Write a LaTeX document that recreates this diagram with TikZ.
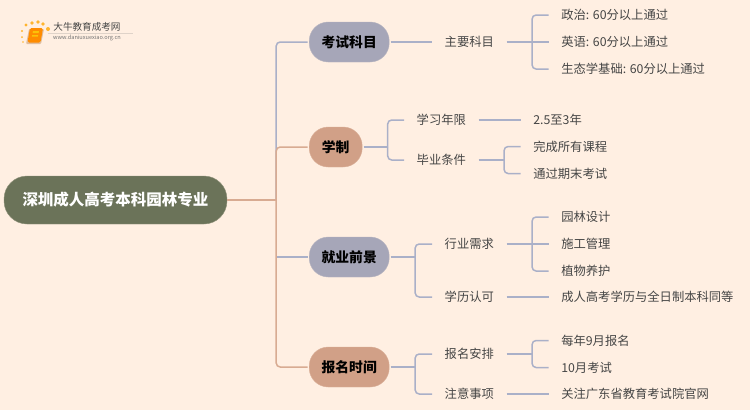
\documentclass[tikz,border=0pt]{standalone}
\usepackage{fontspec}
\setmainfont{Noto Sans CJK SC}
\usetikzlibrary{positioning}
\definecolor{paper}{HTML}{FFEFE2}
\definecolor{bluelink}{HTML}{AAB0C8}
\definecolor{tanlink}{HTML}{D8AB92}
\definecolor{bluecat}{HTML}{A6A6B8}
\definecolor{tancat}{HTML}{D1A087}
\definecolor{rootfill}{HTML}{6B7359}
\definecolor{ink}{HTML}{454545}
\begin{document}
\begin{tikzpicture}[
        x=1pt, y=1pt,
        root/.style={rectangle, draw=rootfill!75!paper, fill=rootfill, rounded corners=23pt, minimum width=223pt, minimum height=48pt, font=\fontsize{15.5}{18}\selectfont\bfseries, text=white},
        bluebox/.style={rectangle, draw=bluecat!80!paper, fill=bluecat, rounded corners=19pt, minimum height=40pt, outer sep=1.5pt, font=\fontsize{13.8}{16}\selectfont\bfseries, text=black},
        tanbox/.style={bluebox, draw=tancat!80!paper, fill=tancat},
        wide/.style={minimum width=80pt},
        narrow/.style={minimum width=53pt},
        topic/.style={inner xsep=12.5pt, inner ysep=0pt, font=\fontsize{12.3}{15}\selectfont, text=ink},
        bluearrow/.style={draw=bluelink, line width=1.5pt, rounded corners=4pt},
        tanarrow/.style={draw=tanlink, line width=1.5pt, rounded corners=4pt}
    ]
        \useasboundingbox[fill=paper] (0,0) rectangle (750,-410);

        % Logo
        \foreach \dotx/\doty/\dotr in {22/-31/1.2, 26/-25/1.6, 32/-23/1.8, 38/-22/1.8, 43/-24/1.8, 48/-29/2, 22/-37/1, 23/-42/.8}
            \fill[orange!70!yellow, opacity=.8] (\dotx,\doty) circle (\dotr);
        \fill[orange!60!black!30!paper, rounded corners=1pt] (29,-29) -- (44,-29) -- (41,-44) -- (26,-44) -- cycle;
        \fill[orange!90!yellow, rounded corners=1.5pt] (30,-28) -- (43,-28) -- (40.5,-42.5) -- (27.5,-42.5) -- cycle;
        \fill[yellow!55!orange] (33,-31) -- (39,-31) -- (38.6,-33) -- (32.6,-33) -- cycle;
        \fill[yellow!55!orange] (32.2,-35) -- (38.2,-35) -- (37.9,-36.5) -- (31.9,-36.5) -- cycle;
        \node[font=\fontsize{9.6}{11}\selectfont, text=ink, inner sep=0pt] (logotitle) at (87,-27) {大牛教育成考网};
        \node[font=\fontsize{5.6}{7}\selectfont, text=gray!90!black, inner sep=0pt, below=3.5pt of logotitle] (logourl) {www.daniuxuexiao.org.cn};
        \draw[gray!25!paper, line width=.6pt] ([xshift=-5pt,yshift=-1.8pt]logotitle.south west) -- ([xshift=12pt,yshift=-1.8pt]logotitle.south east);

        % Root and categories
        \node[root] (root) at (115.5,-200) {深圳成人高考本科园林专业};
        \coordinate[right=49pt of root] (trunk);
        \node[bluebox, wide, right=80.5pt of root, yshift=158pt] (exam) {考试科目};
        \node[tanbox, narrow, right=80.5pt of root, yshift=53pt] (system) {学制};
        \node[bluebox, wide, right=80.5pt of root, yshift=-57pt] (career) {就业前景};
        \node[tanbox, wide, right=80.5pt of root, yshift=-167pt] (signup) {报名时间};

        % Exam side
        \node[topic, right=41.3pt of exam] (subjects) {主要科目};
        \coordinate[right=25.5pt of subjects] (forksubjects);
        \node[topic, right=42pt of subjects, yshift=27pt] (politics) {政治: 60分以上通过};
        \node[topic, right=42pt of subjects] (english) {英语: 60分以上通过};
        \node[topic, right=42pt of subjects, yshift=-27pt] (ecology) {生态学基础: 60分以上通过};

        % System side
        \coordinate[right=24pt of system] (forksystem);
        \node[topic, right=40.3pt of system, yshift=27pt] (years) {学习年限};
        \node[topic, right=40.3pt of system, yshift=-13pt] (graduate) {毕业条件};
        \coordinate[right=25.5pt of graduate] (forkgraduate);
        \node[topic, right=42pt of years] (length) {2.5至3年};
        \node[topic, right=42pt of graduate, yshift=13.5pt] (courses) {完成所有课程};
        \node[topic, right=42pt of graduate, yshift=-13.5pt] (finals) {通过期末考试};

        % Career side
        \coordinate[right=24.5pt of career] (forkcareer);
        \node[topic, right=41.3pt of career, yshift=13pt] (demand) {行业需求};
        \node[topic, right=41.3pt of career, yshift=-40pt] (degree) {学历认可};
        \coordinate[right=25.5pt of demand] (forkdemand);
        \node[topic, right=42pt of demand, yshift=27pt] (design) {园林设计};
        \node[topic, right=42pt of demand] (build) {施工管理};
        \node[topic, right=42pt of demand, yshift=-27pt] (care) {植物养护};
        \node[topic, right=42pt of degree] (equal) {成人高考学历与全日制本科同等};

        % Signup side
        \coordinate[right=24.5pt of signup] (forksignup);
        \node[topic, right=41.3pt of signup, yshift=13pt] (plan) {报名安排};
        \node[topic, right=41.3pt of signup, yshift=-27pt] (notice) {注意事项};
        \coordinate[right=25.5pt of plan] (forkplan);
        \node[topic, right=42pt of plan, yshift=13.5pt] (september) {每年9月报名};
        \node[topic, right=42pt of plan, yshift=-13.5pt] (october) {10月考试};
        \node[topic, right=42pt of notice] (website) {关注广东省教育考试院官网};

        % Links
        \draw[bluearrow] (trunk) |- (exam.west);
        \draw[bluearrow] (trunk |- career) -- (career.west);
        \draw[tanarrow] (root.east) -- (trunk);
        \draw[tanarrow] (trunk) |- (system.west);
        \draw[tanarrow] (trunk) |- (signup.west);

        \draw[bluearrow] (exam.east) -- (subjects.west);
        \draw[bluearrow] (system.east) -- (forksystem);
        \draw[bluearrow] (career.east) -- (forkcareer);
        \draw[bluearrow] (signup.east) -- (forksignup);
        \draw[bluearrow] (subjects.east) -- (english.west);
        \draw[bluearrow] (years.east) -- (length.west);
        \draw[bluearrow] (graduate.east) -- (forkgraduate);
        \draw[bluearrow] (demand.east) -- (build.west);
        \draw[bluearrow] (degree.east) -- (equal.west);
        \draw[bluearrow] (plan.east) -- (forkplan);
        \draw[bluearrow] (notice.east) -- (website.west);

        \foreach \fork/\leaf in {forksubjects/politics, forksubjects/ecology, forksystem/years, forksystem/graduate, forkgraduate/courses, forkgraduate/finals, forkcareer/demand, forkcareer/degree, forkdemand/design, forkdemand/care, forksignup/plan, forksignup/notice, forkplan/september, forkplan/october}
            \draw[bluearrow] (\fork) |- (\leaf.west);
    \end{tikzpicture}
\end{document}
